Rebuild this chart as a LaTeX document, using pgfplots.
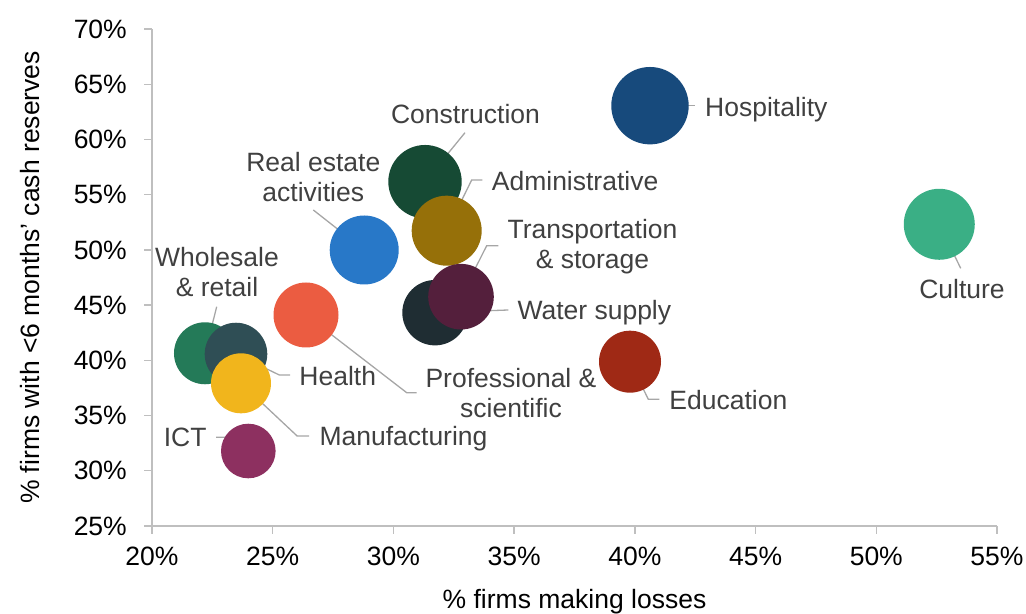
\documentclass[border=0pt]{standalone}
\usepackage{fontspec}
\setmainfont{Liberation Sans}
\usepackage{pgfplots}
\pgfplotsset{compat=1.18}
\definecolor{axisgray}{HTML}{BFBFBF}
\definecolor{leadgray}{HTML}{A6A6A6}
\definecolor{labgray}{HTML}{404040}
\definecolor{cWholesale}{HTML}{247A58}
\definecolor{cHealth}{HTML}{2F4E55}
\definecolor{cManuf}{HTML}{F1B51C}
\definecolor{cICT}{HTML}{8D3060}
\definecolor{cProf}{HTML}{EB5C41}
\definecolor{cReal}{HTML}{2878C8}
\definecolor{cConstr}{HTML}{164A34}
\definecolor{cAdmin}{HTML}{967009}
\definecolor{cWater}{HTML}{1F2D33}
\definecolor{cTransp}{HTML}{541F3C}
\definecolor{cHosp}{HTML}{174A7C}
\definecolor{cEdu}{HTML}{9F2915}
\definecolor{cCult}{HTML}{3AAF85}
\begin{document}
\begin{tikzpicture}[font=\fontsize{26.5bp}{30bp}\selectfont,
  lab/.style={text=labgray, inner sep=0pt, align=center},
  leader/.style={draw=leadgray, line width=1.3bp, no marks},
  bub/.style={only marks, mark=*, color=#1, mark options={fill=#1, draw=#1, draw opacity=0, line width=0pt}}]
\begin{axis}[
  at={(0,0)}, anchor=south west,
  scale only axis, width=845bp, height=497bp,
  xmin=20, xmax=55, ymin=25, ymax=70,
  axis x line*=bottom, axis y line*=left,
  axis line style={draw=axisgray, line width=1.3bp},
  xtick={20,25,30,35,40,45,50,55},
  xticklabels={20\%,25\%,30\%,35\%,40\%,45\%,50\%,55\%},
  ytick={25,30,35,40,45,50,55,60,65,70},
  yticklabels={25\%,30\%,35\%,40\%,45\%,50\%,55\%,60\%,65\%,70\%},
  tick align=outside, major tick length=7.7bp,
  tick style={draw=axisgray, line width=1.3bp},
  xticklabel style={anchor=north, inner sep=0pt, yshift=-13.3bp},
  yticklabel style={anchor=east, inner sep=0pt, xshift=-17.3bp},
  clip=false,
]
% bubbles
\addplot[bub=cWholesale, mark size=31bp] coordinates {(22.195,40.64)};
\addplot[bub=cHealth, mark size=31.3bp] coordinates {(23.479,40.57)};
\addplot[bub=cManuf, mark size=30bp] coordinates {(23.686,37.92)};
\addplot[bub=cICT, mark size=27.3bp] coordinates {(23.989,31.79)};
\addplot[bub=cProf, mark size=32.5bp] coordinates {(26.379,44.105)};
\addplot[bub=cReal, mark size=34.5bp] coordinates {(28.79,49.99)};
\addplot[bub=cConstr, mark size=36.7bp] coordinates {(31.308,56.176)};
\addplot[bub=cAdmin, mark size=35bp] coordinates {(32.206,51.739)};
\addplot[bub=cWater, mark size=32.7bp] coordinates {(31.722,44.314)};
\addplot[bub=cTransp, mark size=32.8bp] coordinates {(32.799,45.763)};
\addplot[bub=cHosp, mark size=38.7bp] coordinates {(40.627,63.057)};
\addplot[bub=cEdu, mark size=31bp] coordinates {(39.799,39.877)};
\addplot[bub=cCult, mark size=35.5bp] coordinates {(52.609,52.318)};
% leader lines
\addplot[leader] coordinates {(22.195,40.64) (22.680,44.857)};
\addplot[leader] coordinates {(23.479,40.57) (25.273,38.673) (25.716,38.673)};
\addplot[leader] coordinates {(23.686,37.92) (26.012,33.149) (26.509,33.149)};
\addplot[leader] coordinates {(23.989,31.79) (23.123,33.032) (22.651,33.032)};
\addplot[leader] coordinates {(26.379,44.105) (30.550,37.070) (30.964,37.070)};
\addplot[leader] coordinates {(28.79,49.99) (26.681,53.613)};
\addplot[leader] coordinates {(31.308,56.176) (32.964,60.612)};
\addplot[leader] coordinates {(32.206,51.739) (33.242,56.329) (33.681,56.329)};
\addplot[leader] coordinates {(31.722,44.314) (34.758,44.558)};
\addplot[leader] coordinates {(32.799,45.763) (33.863,50.380) (34.343,50.380)};
\addplot[leader] coordinates {(40.627,63.057) (42.491,63.057)};
\addplot[leader] coordinates {(39.799,39.877) (40.557,36.472) (41.013,36.472)};
\addplot[leader] coordinates {(52.609,52.318) (53.496,48.334)};
% labels
\node[lab, anchor=center] at (axis cs:22.692,47.999) {Wholesale\\\& retail};
\node[lab, anchor=mid west] at (axis cs:26.101,37.99) {Health};
\node[lab, anchor=mid west] at (axis cs:26.930,32.56) {Manufacturing};
\node[lab, anchor=mid east] at (axis cs:22.266,32.47) {ICT};
\node[lab, anchor=center] at (axis cs:34.870,37.043) {Professional \&\\scientific};
\node[lab, anchor=center] at (axis cs:26.681,56.628) {Real estate\\activities};
\node[lab, anchor=center] at (axis cs:32.985,62.278) {Construction};
\node[lab, anchor=mid west] at (axis cs:34.070,55.59) {Administrative};
\node[lab, anchor=mid west] at (axis cs:35.131,43.90) {Water supply};
\node[lab, anchor=center] at (axis cs:38.246,50.290) {Transportation\\\& storage};
\node[lab, anchor=mid west] at (axis cs:42.905,62.29) {Hospitality};
\node[lab, anchor=mid west] at (axis cs:41.426,35.82) {Education};
\node[lab, anchor=center] at (axis cs:53.55,46.46) {Culture};
\end{axis}
\node[anchor=base, inner sep=0pt] at (422.5bp,-82.5bp) {\% firms making losses};
\node[anchor=base, inner sep=0pt, rotate=90] at (-112bp,248.5bp) {\% firms with <6 months’ cash reserves};
\pgfresetboundingbox
\path[use as bounding box] (-152bp,-88bp) rectangle (874bp,526bp);
\end{tikzpicture}
\end{document}
